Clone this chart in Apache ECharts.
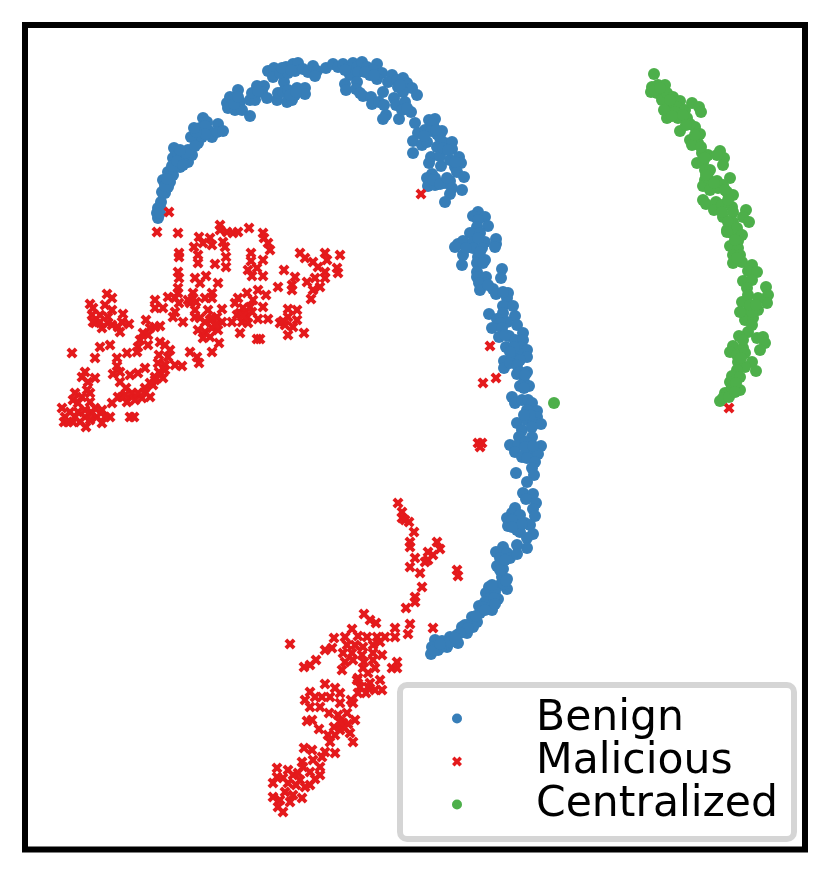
<!DOCTYPE html>
<html><head><meta charset="utf-8">
<script src="https://cdn.jsdelivr.net/npm/echarts@6/dist/echarts.min.js"></script>
<style>html,body{margin:0;padding:0;background:#fff}#c{width:830px;height:874px}</style>
</head><body><div id="c"></div>
<script>
const seriesNames = ["Benign","Malicious","Centralized"];
const benign = [[158,218],[157,213],[160,207],[161,202],[165,193],[162,192],[168,187],[163,180],[170,182],[168,172],[173,175],[175,167],[180,167],[173,158],[182,160],[188,162],[192,155],[188,150],[174,148],[178,155],[185,153],[198,143],[191,137],[202,137],[200,128],[208,130],[212,137],[203,118],[207,122],[218,124],[217,132],[223,131],
[158,208],[160,213],[165,186],[167,179],[172,166],[177,161],[183,165],[180,150],[195,146],[205,126],[205,134],[196,132],[194,128],
[227,103],[230,97],[238,90],[233,100],[240,102],[228,108],[235,110],[242,110],[250,116],[250,100],[255,100],[252,93],[257,86],[264,86],[262,92],[267,98],[277,100],[278,93],[284,82],[283,92],[288,90],[287,102],[292,100],[297,88],[305,88],[305,94],[295,95],[234,104],[238,97],[258,91],[290,95],[296,92],
[268,71],[274,68],[273,77],[280,73],[286,67],[288,73],[293,64],[298,63],[295,71],[303,69],[308,72],[313,66],[317,71],[315,76],[326,68],[333,64],[338,67],[343,64],[348,68],[353,63],[357,67],[362,62],[367,67],[377,64],[373,70],[382,73],[377,79],[350,75],[370,75],[392,75],[388,82],[397,80],[403,78],[407,83],[412,88],[417,95],[403,92],[398,87],[282,68],[291,70],[345,70],[358,72],[365,72],[374,75],[400,85],
[345,84],[357,82],[346,90],[356,89],[360,93],[363,96],[371,97],[372,104],[379,102],[384,105],[383,92],[386,115],[383,119],[399,119],[394,98],[396,105],[405,102],[402,110],[411,112],[407,108],
[415,123],[429,120],[435,119],[433,124],[418,133],[425,130],[413,141],[422,145],[427,142],[442,131],[440,138],[437,147],[445,143],[452,142],[452,149],[413,153],[431,157],[429,163],[440,156],[441,166],[450,160],[459,157],[461,163],[455,167],[457,172],[464,177],[432,174],[427,178],[435,178],[428,186],[435,185],[445,183],[450,181],[452,188],[450,194],[462,190],[445,202],[431,131],[437,134],[443,148],[433,180],[440,184],[436,130],[448,150],[455,162],[447,178],[424,136],
[478,212],[473,216],[485,217],[478,220],[488,226],[477,227],[470,233],[480,233],[463,241],[458,244],[455,247],[473,242],[485,242],[496,239],[496,244],[495,247],[473,248],[482,248],[463,255],[462,265],[478,257],[485,260],[477,263],[483,263],[477,272],[477,277],[486,277],[485,283],[479,283],[480,290],[502,269],[501,278],[493,289],[496,294],[508,293],[507,298],[503,306],[513,306],[503,313],[489,314],[515,316],[497,319],[507,322],[500,323],[492,328],[517,325],[502,328],[499,337],[509,336],[523,333],[515,340],[523,340],[506,347],[520,347],[527,350],[518,353],[527,357],[513,358],[520,360],[504,361],[504,368],[510,363],[517,365],[527,372],[517,374],[520,386],[524,382],[529,386],[524,388],[512,397],[515,403],[522,400],[528,400],[532,403],[537,411],[527,410],[537,417],[517,423],[527,420],[533,422],[541,424],[522,430],[532,427],[519,437],[532,437],[478,238],[480,252],[466,248],[488,285],[503,292],[505,335],[514,347],[510,352],[520,372],[525,375],[530,415],[524,415],
[520,437],[510,445],[518,445],[525,442],[541,446],[515,452],[522,457],[530,452],[538,454],[527,458],[535,462],[532,468],[534,475],[516,473],[527,482],[523,493],[533,494],[526,499],[536,503],[533,509],[535,516],[515,508],[512,513],[507,518],[518,517],[508,526],[515,525],[525,523],[530,525],[520,532],[533,534],[527,538],[517,545],[527,548],[503,547],[507,553],[496,552],[500,558],[510,558],[517,554],[497,566],[503,569],[502,577],[507,579],[507,589],[500,585],[489,587],[486,593],[495,592],[498,599],[490,598],[479,606],[492,610],[480,613],[472,617],[477,622],[470,624],[473,627],[462,627],[467,633],[457,635],[458,643],[450,637],[447,647],[442,641],[437,645],[435,640],[432,647],[431,654],[438,650],[453,640],[445,644],[465,625],[485,602],[525,447],[533,446],[520,515],[512,520],[517,530],[505,560],[500,570],[504,584],[494,598],[483,607],[476,616],[468,628],[460,633],[450,642],[441,647],[434,650],[440,644],[455,638],[495,604],[485,610],
[522,524],[512,527],[506,581],[492,585]];
const malicious = [[421,194],[169,212],[157,232],[178,233],[490,346],[496,378],[483,383],[478,443],[482,443],[480,447],[729,408],
[220,225],[220,230],[227,232],[233,233],[238,232],[249,228],[263,233],[199,237],[210,238],[203,243],[212,245],[194,247],[223,242],[225,247],[264,238],[268,243],[270,250],[179,253],[179,257],[198,255],[198,263],[215,264],[226,257],[226,267],[251,253],[251,261],[263,260],[257,268],[248,270],[252,276],[263,276],[284,270],[295,277],[300,253],[305,258],[313,262],[325,253],[327,260],[340,255],[318,267],[325,272],[337,268],[338,273],[325,278],[307,282],[315,278],[320,287],[313,290],[311,299],[278,287],[292,285],[292,290],
[178,272],[179,278],[195,278],[206,276],[200,283],[218,283],[178,288],[178,293],[193,293],[212,293],[205,298],[212,298],[155,300],[155,308],[168,297],[175,298],[179,303],[163,308],[190,303],[193,298],[175,312],[173,317],[183,322],[195,310],[195,317],[208,310],[222,309],[200,318],[210,320],[217,317],[222,322],[232,322],[235,303],[238,298],[247,293],[253,300],[258,290],[266,295],[243,308],[250,307],[263,307],[240,313],[247,317],[258,319],[268,319],[242,322],[248,323],[240,333],[198,330],[205,332],[203,338],[212,328],[218,330],[210,337],[219,343],[212,352],[190,352],[197,357],[199,363],[257,339],[260,339],
[288,309],[297,310],[288,317],[297,320],[280,323],[285,325],[293,327],[288,335],[304,333],[283,321],
[107,294],[112,298],[90,304],[93,308],[105,305],[112,310],[92,315],[100,315],[108,317],[123,314],[95,323],[108,323],[102,328],[112,325],[122,322],[129,324],[118,327],[120,332],
[146,320],[155,327],[160,326],[150,328],[143,333],[148,335],[140,340],[138,347],[148,345],[100,347],[110,345],[72,353],[95,358],[127,353],[137,352],[160,342],[165,345],[170,350],[159,355],[168,357],[158,363],[165,365],[175,365],[182,366],[117,358],[117,366],[113,374],[120,372],[120,382],[130,375],[138,373],[145,368],[159,372],[163,378],[155,377],[150,383],[145,388],[153,385],[126,388],[132,393],[122,397],[127,402],[135,400],[142,398],[150,397],[138,393],[130,417],[134,417],
[85,372],[82,377],[95,378],[88,382],[87,390],[75,393],[90,393],[82,397],[73,400],[78,403],[90,402],[62,408],[65,417],[64,422],[73,422],[78,412],[85,417],[86,427],[95,408],[102,410],[97,417],[90,420],[102,423],[110,417],[112,403],[118,397],[68,422],[80,422],[92,413],[105,417],
[398,503],[402,512],[402,518],[409,522],[405,520],[414,532],[410,542],[410,547],[437,542],[440,549],[428,552],[433,555],[428,560],[415,558],[425,562],[410,567],[420,573],[457,570],[458,576],[422,587],[415,597],[415,602],[406,608],[364,614],[370,620],[376,623],[395,628],[410,624],[433,628],[408,634],[290,644],[395,637],[352,629],[345,637],[358,636],[367,637],[377,637],[385,637],[334,638],[332,648],[325,650],[347,645],[355,645],[363,647],[373,645],[380,642],[343,653],[352,653],[373,653],[382,655],[345,662],[353,660],[373,660],[342,670],[363,668],[375,668],[368,673],[397,662],[392,668],[397,668],[316,660],[310,665],[304,667],
[357,680],[380,680],[360,687],[368,687],[375,690],[382,690],[358,693],[366,693],[325,684],[310,692],[305,700],[315,697],[322,697],[340,693],[330,697],[340,703],[353,703],[310,707],[320,707],[329,713],[338,715],[347,713],[307,721],[312,720],[355,720],[343,723],[319,729],[340,730],[335,735],[328,735],[350,733],[353,742],[330,742],[304,748],[312,750],[325,752],[335,753],[322,757],[302,762],[313,760],[277,768],[288,770],[303,767],[320,767],[310,772],[320,775],[277,777],[273,783],[293,775],[300,780],[315,779],[288,783],[305,787],[285,792],[273,797],[293,795],[302,798],[280,800],[290,802],[278,807],[283,812],[296,785],[310,785],[298,773],[283,778],[344,728],[334,727],[340,722],[348,724],[362,655],[364,662],[358,678],[370,683],[351,700],[335,688],
[85,410],[70,412],[75,417],[125,395],[145,392],[155,380],[165,370],[212,318],[215,325],[205,322],[237,315],[246,312],[252,312],[243,316],[100,322],[93,322],[188,300],[196,302]];
const centralized = [[554,403],[654,74],[652,87],[658,85],[665,85],[651,92],[657,93],[662,100],[667,93],[673,97],[680,101],[672,105],[668,112],[667,118],[677,107],[685,110],[692,103],[699,107],[701,112],[678,118],[687,118],[680,131],[695,127],[700,134],[690,140],[698,143],[692,145],[702,153],[708,155],[720,151],[724,158],[723,165],[717,155],[697,163],[703,163],[705,170],[710,170],[705,180],[703,186],[717,181],[730,178],[712,185],[723,185],[718,188],[727,192],[733,195],[703,200],[706,204],[716,202],[714,210],[722,205],[732,207],[723,217],[733,212],[746,210],[743,217],[749,222],[733,222],[727,230],[732,233],[741,235],[655,90],[660,88],[670,100],[675,112],[683,115],[690,124],[701,147],[705,158],[708,178],[710,190],[664,110],[672,116],[686,125],[695,135],[706,175],[714,183],[725,190],[728,200],[722,212],[728,222],[737,228],
[727,232],[742,235],[738,241],[730,246],[738,248],[733,255],[740,255],[733,263],[742,262],[752,265],[748,271],[757,272],[743,281],[752,280],[747,288],[766,287],[768,295],[767,303],[742,302],[748,295],[758,298],[747,312],[758,310],[745,320],[753,318],[748,332],[739,336],[757,338],[763,337],[765,343],[760,350],[733,346],[730,352],[743,348],[737,355],[745,353],[738,362],[752,362],[745,367],[737,370],[756,371],[732,376],[740,377],[730,382],[728,393],[740,390],[725,393],[732,388],[720,401],[723,398],[729,397],[735,240],[737,258],[740,312],[752,312],[741,358],[736,383],[735,392],[750,305],[756,305],[752,325],[743,340]];

const X = 'path://M2.5 0L5 2.5L7.5 0L10 2.5L7.5 5L10 7.5L7.5 10L5 7.5L2.5 10L0 7.5L2.5 5L0 2.5Z';
const colors = ['#377eb8','#e41a1c','#4daf4a'];
const chart = echarts.init(document.getElementById('c'), null, {renderer:'canvas'});
chart.setOption({
  animation:false,
  backgroundColor:'#fff',
  color:colors,
  grid:{left:25,right:25,top:25,bottom:24.5,show:true,borderColor:'#000',borderWidth:6,backgroundColor:'#fff'},
  xAxis:{type:'value',min:25,max:805,show:false},
  yAxis:{type:'value',min:25,max:849.5,inverse:true,show:false},
  legend:{
    orient:'vertical',left:400,top:685,
    padding:[12,16,13,52],itemGap:0,itemWidth:10,itemHeight:10,
    borderColor:'#d5d5d5',borderWidth:6,borderRadius:7,backgroundColor:'#fff',
    textStyle:{fontFamily:'DejaVu Sans',fontSize:42.5,color:'#000',lineHeight:42,padding:[0,0,0,69]},
    data:[{name:seriesNames[0],icon:'circle',itemStyle:{opacity:1}},{name:seriesNames[1],icon:X,itemStyle:{opacity:1}},{name:seriesNames[2],icon:'circle',itemStyle:{opacity:1}}]
  },
  series:[
    {name:seriesNames[0],type:'scatter',data:benign,symbol:'circle',symbolSize:12,itemStyle:{color:colors[0],opacity:1}},
    {name:seriesNames[1],type:'scatter',data:malicious,symbol:X,symbolSize:11,itemStyle:{color:colors[1],opacity:1}},
    {name:seriesNames[2],type:'scatter',data:centralized,symbol:'circle',symbolSize:12,itemStyle:{color:colors[2],opacity:1}}
  ]
});
</script></body></html>
